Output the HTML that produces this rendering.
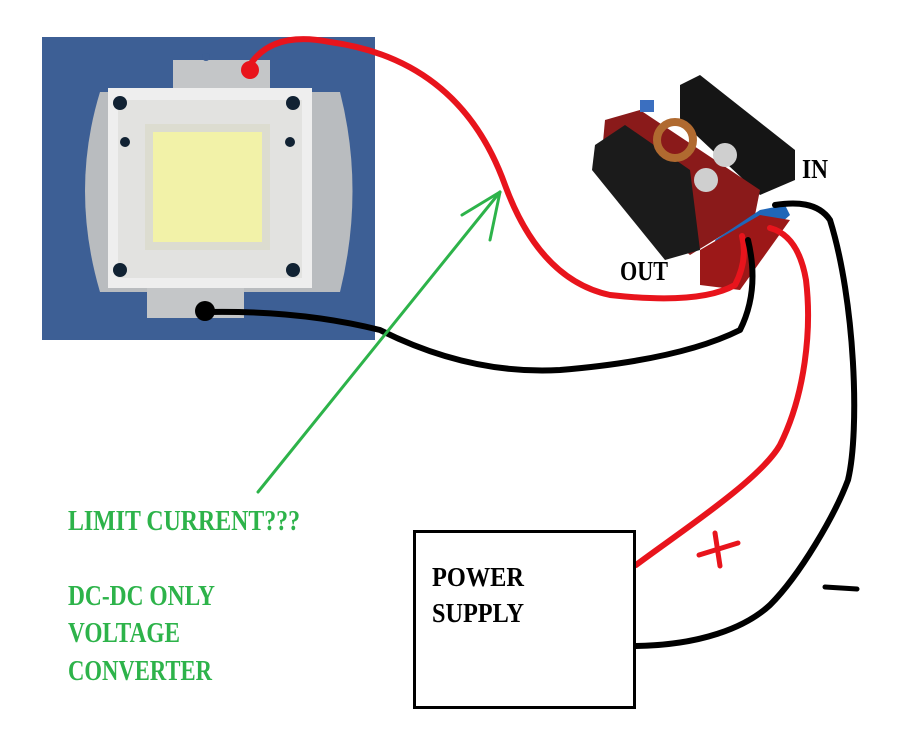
<!DOCTYPE html>
<html><head><style>
body{margin:0;background:#fff;width:899px;height:729px;overflow:hidden}
svg{display:block}
.t{font-family:"Liberation Serif",serif;font-weight:bold}
</style></head><body>
<svg width="899" height="729" viewBox="0 0 899 729">
<rect x="42" y="37" width="333" height="303" fill="#3d5f95"/>
<path d="M100 92 L340 92 Q365 190 340 292 L100 292 Q70 190 100 92Z" fill="#b9bcbf"/>
<rect x="173" y="60" width="97" height="35" fill="#c4c6c8"/>
<rect x="147" y="288" width="97" height="30" fill="#c4c6c8"/>
<rect x="108" y="88" width="204" height="200" fill="#eeeeee"/>
<rect x="118" y="100" width="184" height="178" fill="#e2e2e0"/>
<rect x="145" y="124" width="125" height="126" fill="#dcdcd0"/>
<rect x="153" y="132" width="109" height="110" fill="#f2f2a8"/>
<g fill="#123" >
<circle cx="120" cy="103" r="7"/><circle cx="293" cy="103" r="7"/>
<circle cx="120" cy="270" r="7"/><circle cx="293" cy="270" r="7"/>
<circle cx="125" cy="142" r="5"/><circle cx="290" cy="142" r="5"/>
<circle cx="206" cy="57" r="4" fill="#3d5f95"/>
</g>
<polygon points="680,85 700,75 795,150 795,180 760,195 680,120" fill="#151515"/>
<polygon points="605,120 640,110 760,190 755,215 690,255 600,175" fill="#8a1a1a"/>
<polygon points="595,145 625,125 690,170 700,250 665,260 592,170" fill="#1b1b1b"/>
<circle cx="675" cy="140" r="18" fill="none" stroke="#b06a30" stroke-width="8"/>
<circle cx="706" cy="180" r="12" fill="#cfcfcf"/><circle cx="725" cy="155" r="12" fill="#cfcfcf"/>
<rect x="640" y="100" width="14" height="12" fill="#3b6fc0"/>
<polygon points="715,240 760,210 785,205 790,215 745,255 722,258" fill="#1f66b8"/>
<polygon points="700,250 760,215 790,220 740,290 700,285" fill="#9c1818"/>
<g fill="none" stroke-linecap="round" stroke-linejoin="round" stroke-width="6">
<path d="M248 68 Q270 30 330 42 Q460 60 505 185 Q540 280 610 295 Q700 305 735 285 Q748 260 742 236" stroke="#e8141c"/>
<path d="M205 312 Q300 310 380 330 Q470 375 560 370 Q680 360 740 330 Q760 290 748 240" stroke="#000"/>
<path d="M636 565 C680 532 760 480 780 445 C805 395 812 330 806 280 C800 245 785 232 770 228" stroke="#e8141c"/>
<path d="M636 646 C700 645 745 628 770 605 C800 575 835 515 848 480 C860 430 855 300 830 220 C818 202 795 202 775 205" stroke="#000"/>
</g>
<circle cx="250" cy="70" r="9" fill="#e8141c"/>
<circle cx="205" cy="311" r="10" fill="#000"/>
<g stroke="#2db34a" stroke-width="3" fill="none" stroke-linecap="round">
<path d="M258 492 L500 192"/><path d="M500 192 L462 215"/><path d="M500 192 L490 240"/>
</g>
<rect x="414.5" y="531.5" width="220" height="176" fill="none" stroke="#000" stroke-width="3"/>
<text class="t" x="432" y="586" font-size="27" textLength="92" lengthAdjust="spacingAndGlyphs">POWER</text>
<text class="t" x="432" y="622" font-size="27" textLength="92" lengthAdjust="spacingAndGlyphs">SUPPLY</text>
<text class="t" x="620" y="280" font-size="27" textLength="48" lengthAdjust="spacingAndGlyphs">OUT</text>
<text class="t" x="802" y="178" font-size="27" textLength="26" lengthAdjust="spacingAndGlyphs">IN</text>
<g fill="#2db34a" class="t" font-size="28">
<text x="68" y="530" textLength="232" lengthAdjust="spacingAndGlyphs">LIMIT CURRENT???</text>
<text x="68" y="605" textLength="147" lengthAdjust="spacingAndGlyphs">DC-DC ONLY</text>
<text x="68" y="642" textLength="112" lengthAdjust="spacingAndGlyphs">VOLTAGE</text>
<text x="68" y="680" textLength="144" lengthAdjust="spacingAndGlyphs">CONVERTER</text>
</g>
<g stroke="#e8141c" stroke-width="5" stroke-linecap="round">
<path d="M699 555 L738 543"/><path d="M715 533 L720 566"/>
</g>
<path d="M825 587 L857 589" stroke="#000" stroke-width="5" stroke-linecap="round"/>
</svg>
</body></html>
